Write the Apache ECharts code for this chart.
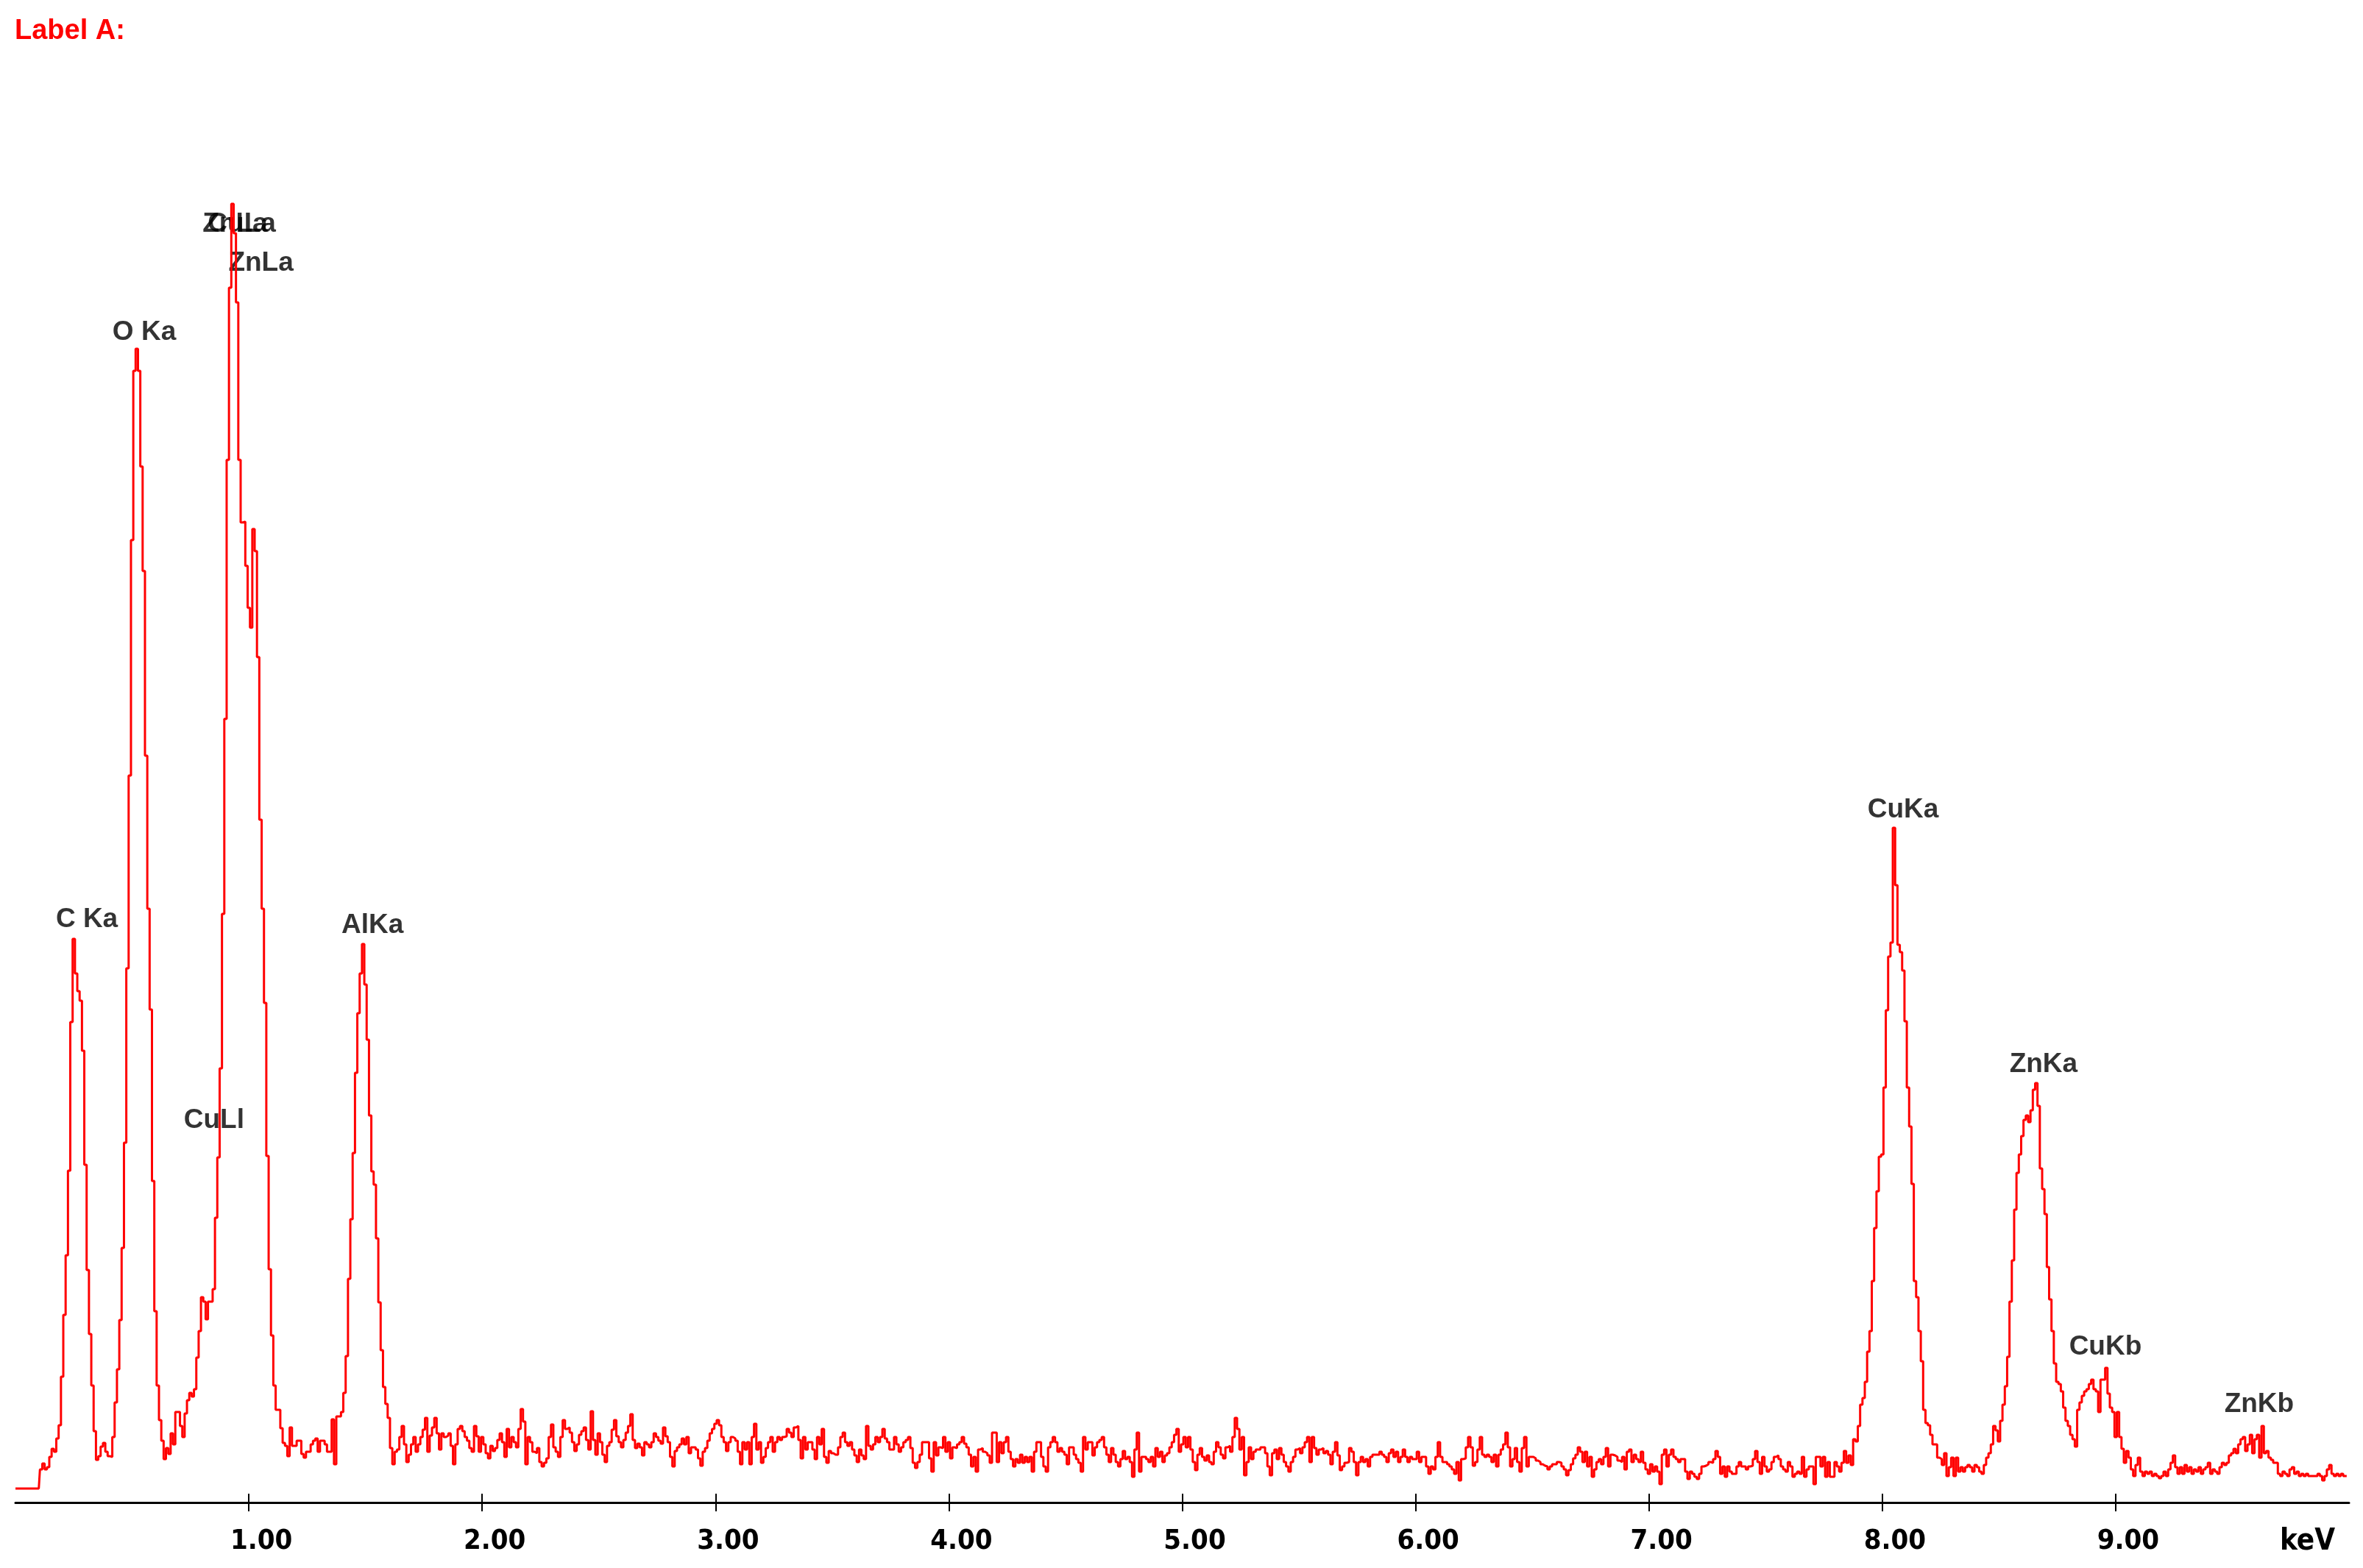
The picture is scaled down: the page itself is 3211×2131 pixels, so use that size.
<!DOCTYPE html>
<html>
<head>
<meta charset="utf-8">
<script src="https://cdn.jsdelivr.net/npm/echarts@6/dist/echarts.min.js"></script>
<style>
html,body{margin:0;padding:0;background:#fff;}
#chart{width:3211px;height:2131px;}
</style>
</head>
<body>
<div id="chart"></div>
<script>
// ---- data: EDS spectrum, counts per 10 eV channel ----
const channelKeV = 0.01;
const titleText = 'Label A:';
const axisUnit = 'keV';
const tickValues = [1, 2, 3, 4, 5, 6, 7, 8, 9];
const tickLabels = ['1.00', '2.00', '3.00', '4.00', '5.00', '6.00', '7.00', '8.00', '9.00'];

// channels 0-163 (0.00-1.63 keV): C, O, Cu/Zn L, Al
const countsLow = [0,0,0,0,0,0,0,0,0,0,0,
 26,34,26,29,43,54,50,68,86,152,236,317,432,634,
 747,700,676,663,595,440,297,210,140,78,39,44,57,62,50,44,43,
 70,117,162,229,327,470,707,969,1289,1519,1549,1519,1389,1247,996,
 788,651,418,241,140,93,65,40,55,47,75,60,104,104,85,70,102,120,130,125,135,178,214,260,254,230,254,254,271,368,450,571,
 781,1046,1398,1632,1746,1706,1612,1398,1313,1314,1254,1197,1170,1304,1274,1130,909,788,660,452,298,208,140,107,107,82,
 62,58,44,83,58,58,65,65,47,42,50,50,60,65,68,50,65,65,60,50,50,94,33,
 98,98,104,130,180,285,366,456,565,646,700,740,685,610,507,431,413,340,253,188,138,115,96,55,33,50];

// channels 164-371 (1.64-3.71 keV)
const countsMidA = [53,70,85,60,36,46,60,70,50,60,70,80,96,50,72,83,96,75,53,75,
 70,72,75,58,33,60,81,85,78,70,65,55,50,85,71,50,70,60,48,41,
 58,51,55,66,75,63,43,81,56,70,63,56,81,108,91,33,70,63,50,48,
 55,36,30,35,41,70,87,56,50,43,70,93,81,83,76,63,51,60,73,78,
 83,66,53,105,66,46,75,63,46,36,58,63,80,93,71,63,56,66,76,85,
 101,66,55,61,56,45,63,60,56,63,75,70,65,61,83,71,63,43,30,51,
 56,60,68,60,70,48,56,56,53,41,31,50,55,65,75,81,88,93,86,70,
 63,51,63,70,68,65,50,33,63,53,63,33,70,88,53,63,35,43,55,63,
 70,50,63,70,66,70,71,81,76,70,83,85,66,41,70,53,63,63,53,40,
 70,60,81,43,35,51,48,46,46,56,70,76,63,58,63,53,45,36,53,45,
 40,85,58,53,60,70,63,70,76,81,73,45,23,43,30,56,60,50,63,43];

// channels 372-579 (3.72-5.79 keV)
const countsMidB = [81,68,63,53,53,70,60,50,56,63,66,70,55,35,28,36,46,63,63,63,
 41,23,63,45,56,55,70,50,63,41,56,55,60,63,70,61,56,46,30,43,
 23,53,55,50,48,45,35,76,76,36,63,48,63,70,50,40,30,40,35,46,
 35,43,36,43,23,50,63,63,43,30,23,56,63,70,63,50,55,50,46,33,
 56,56,46,40,35,23,70,53,63,63,45,56,63,66,70,56,46,36,55,46,
 36,30,40,51,40,43,36,16,53,76,23,43,43,40,36,43,30,55,43,50,
 36,45,48,56,63,73,81,50,60,70,56,70,53,36,25,46,55,43,38,45,
 36,33,50,63,56,46,41,56,58,50,70,96,81,53,70,18,36,56,40,50,
 53,53,56,56,48,30,18,48,53,40,55,46,36,30,23,36,43,53,55,48,
 56,63,70,36,70,55,46,53,55,48,51,46,33,50,63,45,25,30,35,36,
 55,50,36,18,36,43,36,40,40,53,56,48,55,50,36,26,18,30,40,45];

// channels 580-781 (5.80-7.81 keV)
const countsMidC = [30,43,46,46,46,50,46,43,36,48,53,43,50,36,43,53,43,36,43,40,
 40,50,36,43,43,30,20,30,26,43,63,43,36,36,33,30,26,20,36,11,
 40,41,56,70,56,31,36,53,70,46,43,46,43,36,46,30,46,53,60,76,
 56,30,40,55,36,23,55,70,30,43,43,41,38,36,33,31,30,26,30,33,
 33,36,35,30,26,18,25,33,41,46,56,50,36,50,30,43,16,26,36,40,
 33,43,55,30,46,45,43,38,36,43,26,50,53,36,46,40,36,50,35,26,
 20,33,23,30,23,6,46,53,30,46,53,43,40,36,40,40,23,13,23,20,
 16,13,20,30,31,33,36,35,40,51,43,20,30,16,30,23,20,20,30,36,
 30,30,26,30,31,40,51,36,20,43,30,23,26,36,43,45,40,30,26,23,
 36,30,16,20,23,20,43,16,26,30,30,6,43,43,30,43,16,36,16,16,
 36,30,23,20,10,36,30,26,23,26,36,33];

// channels 782-999 (7.82-9.99 keV): Cu K, Zn K
const countsHigh = [23,35,51,35,45,32,67,64,85,114,123,145,186,214,282,354,404,451,454,545,
 650,723,742,898,820,739,729,704,635,545,492,414,282,260,214,173,107,89,86,73,
 60,60,42,40,32,48,17,29,42,17,42,23,29,23,29,32,29,23,32,29,
 23,20,32,42,48,60,85,79,64,92,114,139,179,254,310,379,429,454,479,501,
 507,498,514,542,551,520,435,407,373,301,257,214,170,145,142,132,110,92,85,73,
 67,57,107,117,126,132,135,142,148,135,132,104,148,148,164,129,110,104,70,104,
 70,54,35,51,42,26,17,32,42,23,17,23,20,23,17,20,17,14,17,23,
 17,26,35,45,29,20,29,20,32,23,29,20,26,23,29,20,26,29,35,20,
 26,23,20,29,35,32,35,45,48,54,48,60,67,70,51,60,73,48,67,73,
 42,85,48,51,42,39,35,35,20,17,23,20,17,26,29,20,23,17,20,17,
 20,17,17,17,17,20,17,11,17,26,32,20,17,20,17,20,17,17,17];

const segmentStarts = [0, 164, 372, 580, 782];
const totalChannels = 1000;

// peak annotations
const peakNames  = ['C Ka', 'O Ka', 'ZnLa', 'CuLa', 'ZnLa', 'CuLl', 'AlKa', 'CuKa', 'ZnKa', 'CuKb', 'ZnKb'];
const peakLabelKeV = [0.306, 0.552, 0.941, 0.970, 1.052, 0.851, 1.530, 8.089, 8.691, 8.956, 9.615];
const peakLabelCounts = [773, 1571, 1718, 1718, 1665, 500, 765, 922, 576, 192, 114];

// ---- build series ----
const segmentCounts = [countsLow, countsMidA, countsMidB, countsMidC, countsHigh];
const spectrum = [];
segmentCounts.forEach(function (arr, k) {
  const start = segmentStarts[k];
  const end = k + 1 < segmentStarts.length ? segmentStarts[k + 1] : totalChannels;
  const n = Math.min(arr.length, end - start);
  for (let j = 0; j < n; j++) {
    spectrum.push([+((start + j) * channelKeV).toFixed(2), arr[j]]);
  }
});
const labelData = peakNames.map(function (nm, i) {
  return { name: nm, value: [peakLabelKeV[i], peakLabelCounts[i]] };
});

const chart = echarts.init(document.getElementById('chart'), null, { renderer: 'canvas' });
const axisFont = '"Liberation Sans Narrow", "DejaVu Sans Condensed", "Arial Narrow", "Liberation Sans", sans-serif';
chart.setOption({
  animation: false,
  backgroundColor: '#ffffff',
  title: {
    text: titleText,
    left: 20,
    top: 24,
    padding: 0,
    textStyle: { color: '#ff0000', fontSize: 38, fontWeight: 'bold', fontFamily: 'Liberation Sans' }
  },
  grid: { left: 21, right: 19, top: 23, bottom: 89, containLabel: false, outerBoundsMode: 'none' },
  xAxis: [{
    type: 'value',
    min: 0,
    max: 10,
    interval: 1,
    position: 'bottom',
    splitLine: { show: false },
    axisLine: { show: true, onZero: false, lineStyle: { color: '#000', width: 3 } },
    axisTick: { show: true, inside: false, length: 12, lineStyle: { color: '#000', width: 2 }, customValues: tickValues },
    axisLabel: {
      show: true,
      customValues: tickValues,
      margin: 34,
      color: '#000',
      fontFamily: axisFont,
      fontWeight: 'bold',
      fontSize: 38,
      padding: [0, 0, 0, 34],
      formatter: function (v) { const i = tickValues.indexOf(Math.round(v)); return i >= 0 ? tickLabels[i] : ''; }
    },
    name: axisUnit,
    nameLocation: 'end',
    nameGap: -19,
    nameTextStyle: { color: '#000', fontFamily: axisFont, fontWeight: 'bold', fontSize: 40, align: 'right', verticalAlign: 'top', padding: [34, 0, 0, 0] }
  }, {
    type: 'value',
    min: 0,
    max: 10,
    interval: 1,
    position: 'bottom',
    splitLine: { show: false },
    axisLine: { show: false, onZero: false },
    axisTick: { show: true, inside: true, length: 12, lineStyle: { color: '#000', width: 2 }, customValues: tickValues },
    axisLabel: { show: false }
  }],
  yAxis: { type: 'value', min: -19, max: 2000, show: false, splitLine: { show: false } },
  series: [{
    type: 'line',
    xAxisIndex: 0,
    data: spectrum,
    step: 'middle',
    symbol: 'none',
    showSymbol: false,
    lineStyle: { color: '#ff0000', width: 3 },
    silent: true
  }, {
    type: 'scatter',
    xAxisIndex: 0,
    data: labelData,
    symbolSize: 1,
    itemStyle: { color: 'rgba(0,0,0,0)' },
    label: {
      show: true,
      position: 'inside',
      formatter: '{b}',
      color: '#000',
      fontFamily: 'Liberation Sans',
      fontWeight: 'bold',
      fontSize: 37
    },
    silent: true
  }]
});
</script>
</body>
</html>
